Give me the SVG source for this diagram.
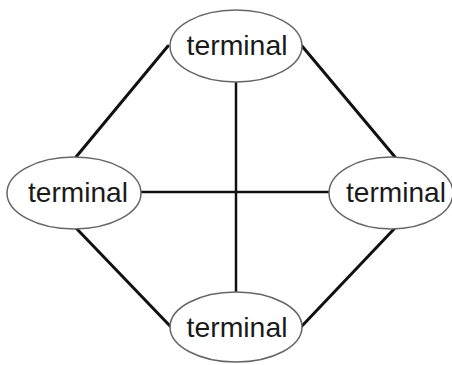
<svg xmlns="http://www.w3.org/2000/svg" width="452" height="365" viewBox="0 0 452 365">
<style>
.node ellipse{fill:#fff;stroke:#666;stroke-width:1.5}
.node text{font-family:"Liberation Sans",Arial,sans-serif;font-size:28px;fill:#1a1a1a;text-anchor:middle}
.edge{stroke:#111;stroke-width:3;fill:none;stroke-linecap:round}
.cross{stroke:#111;stroke-width:2.5;fill:none}
</style>
<rect width="452" height="365" fill="#fff"/>
<g id="connectors">
<line class="cross" x1="236" y1="82" x2="236" y2="293"/>
<line class="cross" x1="140" y1="192" x2="330" y2="192"/>
<line class="edge" x1="168" y1="46" x2="76" y2="157"/>
<line class="edge" x1="76" y1="228" x2="171" y2="327"/>
<line class="edge" x1="302" y1="46" x2="395" y2="157"/>
<line class="edge" x1="395" y1="228" x2="301" y2="327"/>
</g>
<g id="top" class="node"><ellipse cx="236" cy="46" rx="66" ry="36"/><text x="237" y="55" textLength="101" lengthAdjust="spacingAndGlyphs">terminal</text></g>
<g id="left" class="node"><ellipse cx="74" cy="193" rx="67" ry="36"/><text x="78" y="202" textLength="100" lengthAdjust="spacingAndGlyphs">terminal</text></g>
<g id="right" class="node"><ellipse cx="391" cy="193" rx="62" ry="36"/><text x="396" y="202" textLength="100" lengthAdjust="spacingAndGlyphs">terminal</text></g>
<g id="bottom" class="node"><ellipse cx="236" cy="327" rx="66" ry="35"/><text x="237" y="337" textLength="101" lengthAdjust="spacingAndGlyphs">terminal</text></g>
</svg>
